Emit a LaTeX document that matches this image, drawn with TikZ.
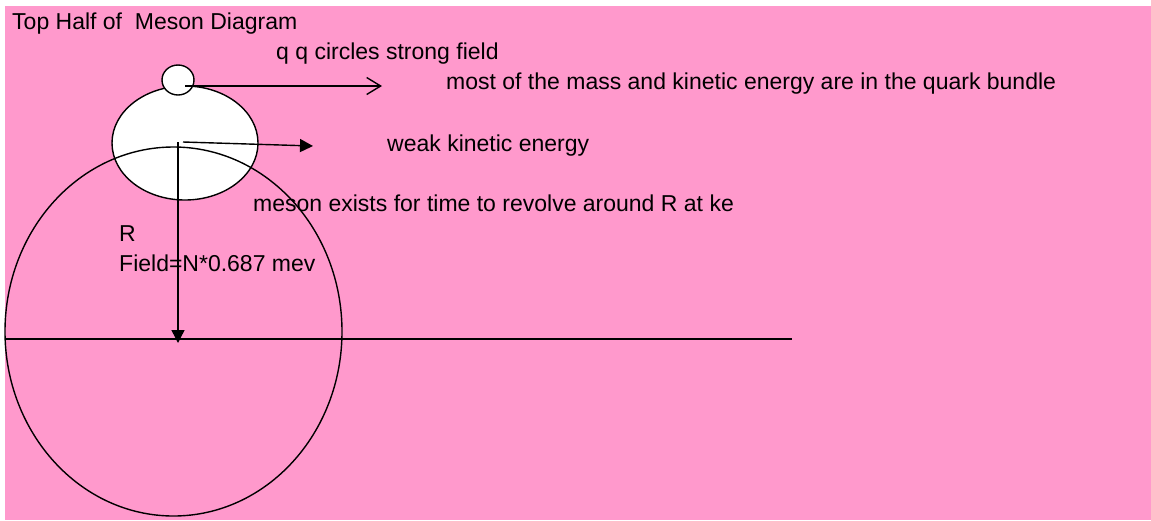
\documentclass[tikz,border=0pt]{standalone}
\usepackage{fontspec}
\setmainfont{Liberation Sans}
\usetikzlibrary{arrows.meta,shapes.geometric}
\definecolor{sheetpink}{RGB}{255,153,204}

\begin{document}
\begin{tikzpicture}[
    x=1pt, y=-1pt,
    font=\fontsize{23}{27}\selectfont,
    label/.style={anchor=base west, inner sep=0pt},
    blob/.style={draw, ellipse, line width=1.4pt, fill=white, inner sep=0pt},
    orbit/.style={draw, ellipse, line width=1.4pt, inner sep=0pt},
    openarrow/.style={-{Straight Barb[length=14pt, width=17pt]}, line width=1.4pt},
    arrow/.style={-{Triangle[length=13pt, width=13pt]}, line width=1.4pt}
  ]
    \useasboundingbox (0,0) rectangle (1151,520);
    \fill[white] (0,0) rectangle (1151,520);
    \fill[sheetpink] (5,6) rectangle (1151,520);

    \node[blob, minimum width=146pt, minimum height=114pt] (meson) at (185,143) {};
    \node[blob, minimum width=32pt, minimum height=30pt] (quarks) at (178,80) {};
    \node[orbit, minimum width=337pt, minimum height=369pt] (orbit) at (173.5,331.5) {};

    \node[label] (title) at (12,29.3) {Top Half of\ \ Meson Diagram};
    \node[label] (qq) at (276,59.3) {q q circles strong field};
    \node[label] (mass) at (446,89.5) {most of the mass and kinetic energy are in the quark bundle};
    \node[label] (weak) at (387,151) {weak kinetic energy};
    \node[label] (exists) at (253,211.7) {meson exists for time to revolve around R at ke};
    \node[label] (radius) at (119,241.7) {R};
    \node[label] (field) at (119,271.7) {Field=N*0.687 mev};

    \coordinate (qstart) at (185,86);
    \coordinate (qend) at (382,86);
    \coordinate (wstart) at (183,142);
    \coordinate (wend) at (313,146);
    \coordinate (rtop) at (178,142);
    \coordinate (rbottom) at (178,343);
    \coordinate (axisleft) at (5,339);
    \coordinate (axisright) at (792,339);

    \draw[openarrow] (qstart) -- (qend);
    \draw[arrow] (wstart) -- (wend);
    \draw[arrow] (rtop) -- (rbottom);
    \draw[line width=2pt] (axisleft) -- (axisright);
  \end{tikzpicture}
\end{document}
